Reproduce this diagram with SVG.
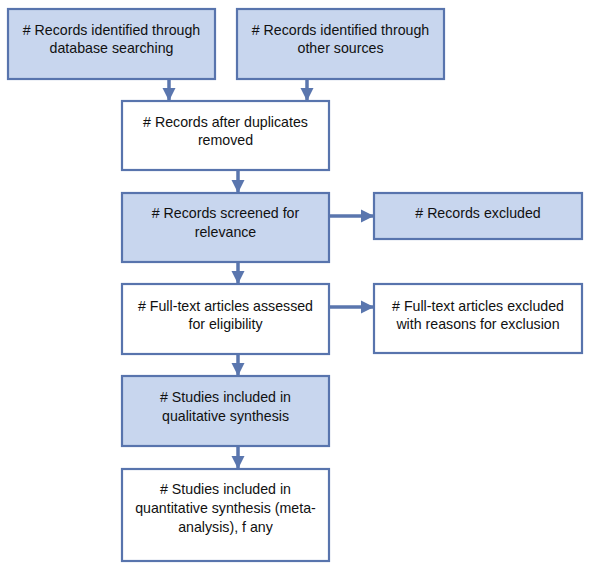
<svg xmlns="http://www.w3.org/2000/svg" width="593" height="570" viewBox="0 0 593 570">
<style>
.box{stroke:#5874ad;stroke-width:2.2}
.blue{fill:#c8d6ee}
.white{fill:#ffffff}
text{font-family:"Liberation Sans",Arial,sans-serif;font-size:14.2px;fill:#111;text-anchor:middle}
.conn line{stroke:#5a76ae;stroke-width:3.5}
</style>
<defs>
<marker id="ah" viewBox="0 0 10 10" refX="10" refY="5" markerWidth="3.8" markerHeight="4" markerUnits="strokeWidth" orient="auto">
<path d="M0,0 L10,5 L0,10 z" fill="#5a76ae"/>
</marker>
</defs>
<rect width="593" height="570" fill="#ffffff"/>
<g class="conn">
<line x1="169" y1="79" x2="169" y2="101" marker-end="url(#ah)"/>
<line x1="307" y1="79" x2="307" y2="101" marker-end="url(#ah)"/>
<line x1="238" y1="170" x2="238" y2="193" marker-end="url(#ah)"/>
<line x1="329" y1="216" x2="374" y2="216" marker-end="url(#ah)"/>
<line x1="238" y1="262" x2="238" y2="284" marker-end="url(#ah)"/>
<line x1="329" y1="307" x2="374" y2="307" marker-end="url(#ah)"/>
<line x1="238" y1="354" x2="238" y2="376" marker-end="url(#ah)"/>
<line x1="238" y1="446" x2="238" y2="469" marker-end="url(#ah)"/>
</g>
<g id="n1"><rect class="box blue" x="8" y="9" width="207" height="70"/><text><tspan x="111.5" y="35">#&#160;Records identified through</tspan><tspan x="111.5" y="53">database searching</tspan></text></g>
<g id="n2"><rect class="box blue" x="237" y="9" width="207" height="70"/><text><tspan x="340.5" y="35">#&#160;Records identified through</tspan><tspan x="340.5" y="53">other sources</tspan></text></g>
<g id="n3"><rect class="box white" x="122" y="101" width="207" height="69"/><text><tspan x="225.5" y="127">#&#160;Records after duplicates</tspan><tspan x="225.5" y="145">removed</tspan></text></g>
<g id="n4"><rect class="box blue" x="122" y="193" width="207" height="69"/><text><tspan x="225.5" y="218">#&#160;Records screened for</tspan><tspan x="225.5" y="237">relevance</tspan></text></g>
<g id="n5"><rect class="box blue" x="374" y="193" width="208" height="46"/><text><tspan x="478" y="218">#&#160;Records excluded</tspan></text></g>
<g id="n6"><rect class="box white" x="122" y="284" width="207" height="70"/><text><tspan x="225.5" y="311">#&#160;Full-text articles assessed</tspan><tspan x="225.5" y="329">for eligibility</tspan></text></g>
<g id="n7"><rect class="box white" x="374" y="284" width="208" height="69"/><text><tspan x="478" y="311">#&#160;Full-text articles excluded</tspan><tspan x="478" y="329">with reasons for exclusion</tspan></text></g>
<g id="n8"><rect class="box blue" x="122" y="376" width="207" height="70"/><text><tspan x="225.5" y="402">#&#160;Studies included in</tspan><tspan x="225.5" y="421">qualitative synthesis</tspan></text></g>
<g id="n9"><rect class="box white" x="122" y="469" width="207" height="92"/><text><tspan x="225.5" y="494">#&#160;Studies included in</tspan><tspan x="225.5" y="513">quantitative synthesis (meta-</tspan><tspan x="225.5" y="532">analysis), f any</tspan></text></g>
</svg>
